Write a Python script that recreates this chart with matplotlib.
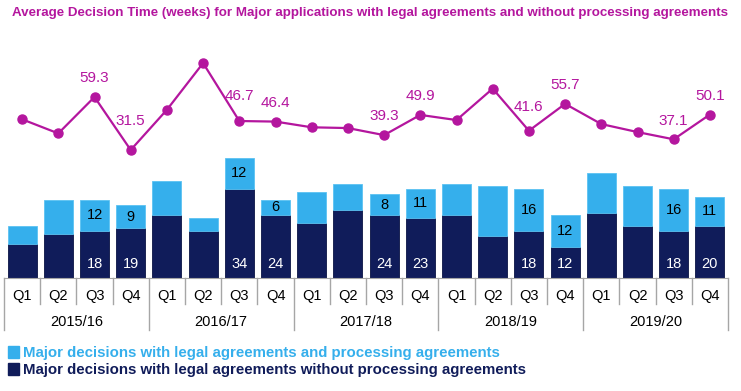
import matplotlib
matplotlib.use("Agg")
import matplotlib.pyplot as plt
from matplotlib.patches import Patch
import numpy as np

plt.rcParams['font.family'] = ['Liberation Sans', 'DejaVu Sans']

# datos
years = ['2015/16', '2016/17', '2017/18', '2018/19', '2019/20']
quarters = ['Q1', 'Q2', 'Q3', 'Q4']
sin_proceso = [13, 17, 18, 19, 24, 18, 34, 24, 21, 26, 24, 23, 24, 16, 18, 12, 25, 20, 18, 20]
con_proceso = [7, 13, 12, 9, 13, 5, 12, 6, 12, 10, 8, 11, 12, 19, 16, 12, 15, 15, 16, 11]
tiempo_medio = [47.6, 40.2, 59.3, 31.5, 52.6, 77.1, 46.7, 46.4, 43.4, 43.0,
                39.3, 49.9, 47.2, 63.7, 41.6, 55.7, 45.1, 40.9, 37.1, 50.1]
# solo se etiquetan Q3 y Q4
etiquetas_idx = [2, 3, 6, 7, 10, 11, 14, 15, 18, 19]

titulo = 'Average Decision Time (weeks) for Major applications with legal agreements and without processing agreements'
ley_con = 'Major decisions with legal agreements and processing agreements'
ley_sin = 'Major decisions with legal agreements without processing agreements'

azul_claro = '#35AFEC'
azul_osc = '#101C5A'
magenta = '#B4169E'
gris = '#A6A6A6'

W, H = 741, 391
fig = plt.figure(figsize=(W / 100, H / 100), dpi=100)

# ejes en pixeles
x0, x1 = 4, 728
ybase, ytop = 278, 30
ax = fig.add_axes([x0 / W, 1 - ybase / H, (x1 - x0) / W, (ybase - ytop) / H])
n = len(sin_proceso)
x = np.arange(n)

ax.bar(x, sin_proceso, width=0.8, color=azul_osc, edgecolor='#0A1445', linewidth=0.6)
ax.bar(x, con_proceso, width=0.8, bottom=sin_proceso, color=azul_claro, edgecolor='#5CC2F2', linewidth=0.6)
ax.set_xlim(-0.5, n - 0.5)
ax.set_ylim(0, (ybase - ytop) / 2.615)

for i in etiquetas_idx:
    ax.text(i, sin_proceso[i] + con_proceso[i] / 2, str(con_proceso[i]), ha='center', va='center',
            fontsize=10.5, color='black')
    ax.annotate(str(sin_proceso[i]), (i, 0), xytext=(0, 10), textcoords='offset points',
                ha='center', va='center', fontsize=10.5, color='white')

# eje secundario para la linea
ax2 = ax.twinx()
ax2.plot(x, tiempo_medio, color=magenta, linewidth=1.6, marker='o', markersize=6.5)
ax2.set_ylim(59.3 - (ybase - 97) / 1.906, 59.3 + (97 - ytop) / 1.906)

desplaz = {3: 21, 6: 18, 14: 17}
for i in etiquetas_idx:
    ax2.annotate(f'{tiempo_medio[i]:.1f}', (i, tiempo_medio[i]), xytext=(0, desplaz.get(i, 13.5)),
                 textcoords='offset points', ha='center', va='center', fontsize=11, color=magenta)

for a in (ax, ax2):
    a.set_xticks([])
    a.set_yticks([])
    for s in ['top', 'right', 'left']:
        a.spines[s].set_visible(False)
ax.spines['bottom'].set_color(gris)
ax2.spines['bottom'].set_visible(False)

# etiquetas de categorias en dos niveles
trans = ax.get_xaxis_transform()
px = 1 / (ybase - ytop)
for i in range(n):
    ax.text(i, -(296 - ybase) * px, quarters[i % 4], transform=trans, ha='center', va='center',
            fontsize=10.5, clip_on=False)
for k, yr in enumerate(years):
    ax.text(4 * k + 1.5, -(322 - ybase) * px, yr, transform=trans, ha='center', va='center',
            fontsize=10.5, clip_on=False)
for j in range(n + 1):
    borde = j % 4 == 0
    largo = 330 if borde else 304
    ax.plot([j - 0.5, j - 0.5], [0, -(largo - ybase) * px], transform=trans, color=gris,
            linewidth=1, clip_on=False)

fig.text(12 / W, 1 - 13 / H, titulo, color=magenta, fontsize=9.6, fontweight='bold',
         ha='left', va='center')

handles = [Patch(facecolor=azul_claro, edgecolor=azul_claro), Patch(facecolor=azul_osc, edgecolor=azul_osc)]
fig.legend(handles, [ley_con, ley_sin], loc='upper left', bbox_to_anchor=(2 / W, 1 - 340 / H),
           frameon=False, labelcolor=[azul_claro, azul_osc], prop={'weight': 'bold', 'size': 10.8},
           handlelength=0.7, handleheight=0.9, handletextpad=0.3, labelspacing=0.15, borderaxespad=0)

fig.savefig('out.png', dpi=100)
